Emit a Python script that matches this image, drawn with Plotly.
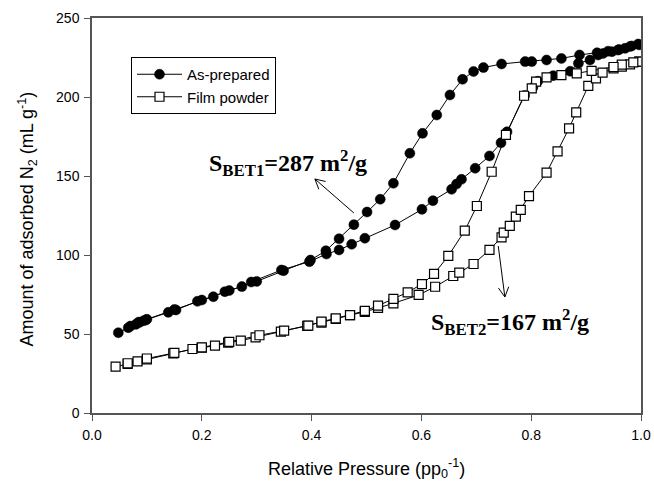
import math
import plotly.graph_objects as go

# As-prepared: adsorption (increasing p) and desorption (decreasing p)
ap_ads_x = [0.048, 0.066, 0.080, 0.087, 0.094, 0.098, 0.139, 0.153, 0.192, 0.221, 0.242, 0.273, 0.290, 0.345,
            0.396, 0.427, 0.450, 0.473, 0.497, 0.552, 0.601, 0.621, 0.655, 0.664, 0.673, 0.698, 0.724, 0.745,
            0.756, 0.788, 0.803, 0.812, 0.840, 0.871, 0.886, 0.907, 0.922, 0.931, 0.947, 0.958, 0.971, 0.983, 0.995]
ap_ads_y = [50.8, 54.0, 56.1, 57.4, 58.4, 58.9, 63.7, 65.2, 70.7, 73.6, 76.8, 80.0, 82.9, 90.5,
            95.8, 100.6, 103.2, 106.8, 110.6, 119.0, 128.9, 134.4, 141.6, 144.9, 147.9, 154.9, 162.7, 171.0,
            178.0, 201.0, 206.0, 210.0, 213.5, 216.3, 221.3, 223.4, 226.6, 227.6, 228.7, 229.7, 230.8, 232.3, 233.5]
ap_des_x = [0.997, 0.980, 0.960, 0.940, 0.920, 0.888, 0.855, 0.828, 0.801, 0.789, 0.746, 0.713, 0.695, 0.675,
            0.652, 0.628, 0.602, 0.579, 0.549, 0.525, 0.501, 0.477, 0.450, 0.426, 0.398, 0.349, 0.300, 0.250,
            0.200, 0.150, 0.100, 0.085, 0.070]
ap_des_y = [233.0, 232.0, 230.0, 229.0, 228.0, 226.6, 224.4, 223.4, 222.4, 222.4, 220.9, 218.6, 216.1, 211.2,
            201.3, 188.6, 177.0, 164.4, 145.4, 135.3, 127.2, 119.2, 110.3, 102.7, 96.8, 90.1, 83.3, 77.5,
            71.5, 65.5, 59.3, 57.5, 55.0]

# Film powder
fp_ads_x = [0.043, 0.065, 0.083, 0.100, 0.148, 0.183, 0.200, 0.224, 0.248, 0.271, 0.298, 0.344, 0.392, 0.418,
            0.444, 0.470, 0.497, 0.521, 0.549, 0.595, 0.625, 0.658, 0.669, 0.695, 0.724, 0.746, 0.750, 0.761,
            0.772, 0.781, 0.796, 0.828, 0.848, 0.869, 0.882, 0.904, 0.918, 0.930, 0.950, 0.965, 0.980, 0.997]
fp_ads_y = [29.3, 31.0, 32.7, 33.9, 37.7, 40.5, 41.3, 42.6, 44.5, 45.8, 47.9, 51.5, 55.1, 57.2,
            59.5, 62.0, 64.0, 66.5, 69.4, 74.7, 79.9, 86.7, 88.8, 94.3, 103.2, 111.2, 114.1, 118.4,
            124.3, 128.5, 137.3, 152.1, 165.6, 180.2, 190.3, 207.0, 211.8, 215.4, 218.1, 219.2, 220.7, 222.4]
fp_des_x = [0.997, 0.986, 0.965, 0.950, 0.910, 0.883, 0.855, 0.828, 0.809, 0.801, 0.787, 0.754, 0.728, 0.701,
            0.679, 0.649, 0.623, 0.601, 0.575, 0.549, 0.521, 0.497, 0.470, 0.444, 0.418, 0.394, 0.350, 0.305,
            0.250, 0.200, 0.150, 0.100, 0.065]
fp_des_y = [222.4, 221.9, 220.5, 219.0, 216.5, 215.0, 213.9, 212.4, 209.7, 205.5, 200.8, 176.0, 152.7, 131.0,
            115.4, 99.4, 88.0, 81.6, 76.4, 72.2, 67.9, 64.6, 62.0, 59.9, 57.8, 55.3, 52.1, 49.2,
            45.0, 41.5, 38.0, 34.5, 31.5]

x_ticks = [0.0, 0.2, 0.4, 0.6, 0.8, 1.0]
y_ticks = [0, 50, 100, 150, 200, 250]
x_range = [0, 1.0]
y_range = [0, 250]

W, H = 654, 482
ML, MR, MT, MB = 92, 13, 18, 69
PW, PH = W - ML - MR, H - MT - MB

fig = go.Figure()
fig.add_trace(go.Scatter(
    x=ap_ads_x + ap_des_x, y=ap_ads_y + ap_des_y, mode="lines+markers", name="As-prepared",
    line=dict(color="black", width=1),
    marker=dict(symbol="circle", size=10, color="black", line=dict(color="black", width=0.5)),
))
fig.add_trace(go.Scatter(
    x=fp_ads_x + fp_des_x, y=fp_ads_y + fp_des_y, mode="lines+markers", name="Film powder",
    line=dict(color="black", width=1),
    marker=dict(symbol="square", size=9, color="white", line=dict(color="black", width=1.2)),
))

axis_common = dict(showline=True, linecolor="#555555", linewidth=1.5, mirror=True,
                   ticks="outside", ticklen=6, tickcolor="#555555", tickwidth=1.2,
                   showgrid=False, zeroline=False, automargin=False,
                   tickfont=dict(family="Arial, Liberation Sans, sans-serif", size=14, color="black"))

fig.update_xaxes(range=x_range, tickvals=x_ticks, ticktext=[f"{v:.1f}" for v in x_ticks],
                 ticklabelstandoff=2, **axis_common)
fig.update_yaxes(range=y_range, tickvals=y_ticks, ticktext=[str(v) for v in y_ticks],
                 ticklabelstandoff=2, **axis_common)

title_font = dict(family="Arial, Liberation Sans, sans-serif", size=18, color="black")
fig.add_annotation(x=0.5, y=(MB - 14) / PH * -1, xref="paper", yref="paper", xanchor="center", yanchor="middle",
                   text="Relative Pressure (pp<sub>0</sub><sup>-1</sup>)", showarrow=False, font=title_font)
fig.add_annotation(x=-65 / PW, y=0.49, xref="paper", yref="paper", xanchor="center", yanchor="middle",
                   textangle=-90, text="Amount of adsorbed N<sub>2</sub> (mL g<sup>-1</sup>)",
                   showarrow=False, font=title_font)

ann_font = dict(family="Liberation Serif, Times New Roman, serif", size=24, color="black")
fig.add_annotation(x=0.209, y=158, xref="x", yref="y", xanchor="left", yanchor="middle",
                   text="<b>S<sub>BET1</sub>=287 m<sup>2</sup>/g</b>", showarrow=False, font=ann_font)
fig.add_annotation(x=0.614, y=57.5, xref="x", yref="y", xanchor="left", yanchor="middle",
                   text="<b>S<sub>BET2</sub>=167 m<sup>2</sup>/g</b>", showarrow=False, font=ann_font)

# open "V" arrows (tail -> head) drawn as line shapes
arrows = [((0.477, 126.6), (0.406, 148.1)), ((0.740, 105.7), (0.752, 73.4))]
sx = PW / (x_range[1] - x_range[0])
sy = PH / (y_range[1] - y_range[0])
for (tx, ty), (hx, hy) in arrows:
    fig.add_shape(type="line", x0=tx, y0=ty, x1=hx, y1=hy, xref="x", yref="y",
                  line=dict(color="black", width=1))
    ang = math.atan2((hy - ty) * sy, (hx - tx) * sx)
    for d in (math.radians(28), -math.radians(28)):
        a = ang + math.pi + d
        ex = hx + 11 * math.cos(a) / sx
        ey = hy + 11 * math.sin(a) / sy
        fig.add_shape(type="line", x0=hx, y0=hy, x1=ex, y1=ey, xref="x", yref="y",
                      line=dict(color="black", width=1))

fig.update_layout(
    width=W, height=H,
    margin=dict(l=ML, r=MR, t=MT, b=MB),
    paper_bgcolor="white", plot_bgcolor="white",
    showlegend=True,
    legend=dict(x=(131 - ML) / PW, y=1 - (57 - MT) / PH, xanchor="left", yanchor="top",
                bordercolor="black", borderwidth=1, bgcolor="white",
                font=dict(family="Arial, Liberation Sans, sans-serif", size=15, color="black"),
                itemwidth=45, tracegroupgap=0),
)

fig.write_html("out.html")
